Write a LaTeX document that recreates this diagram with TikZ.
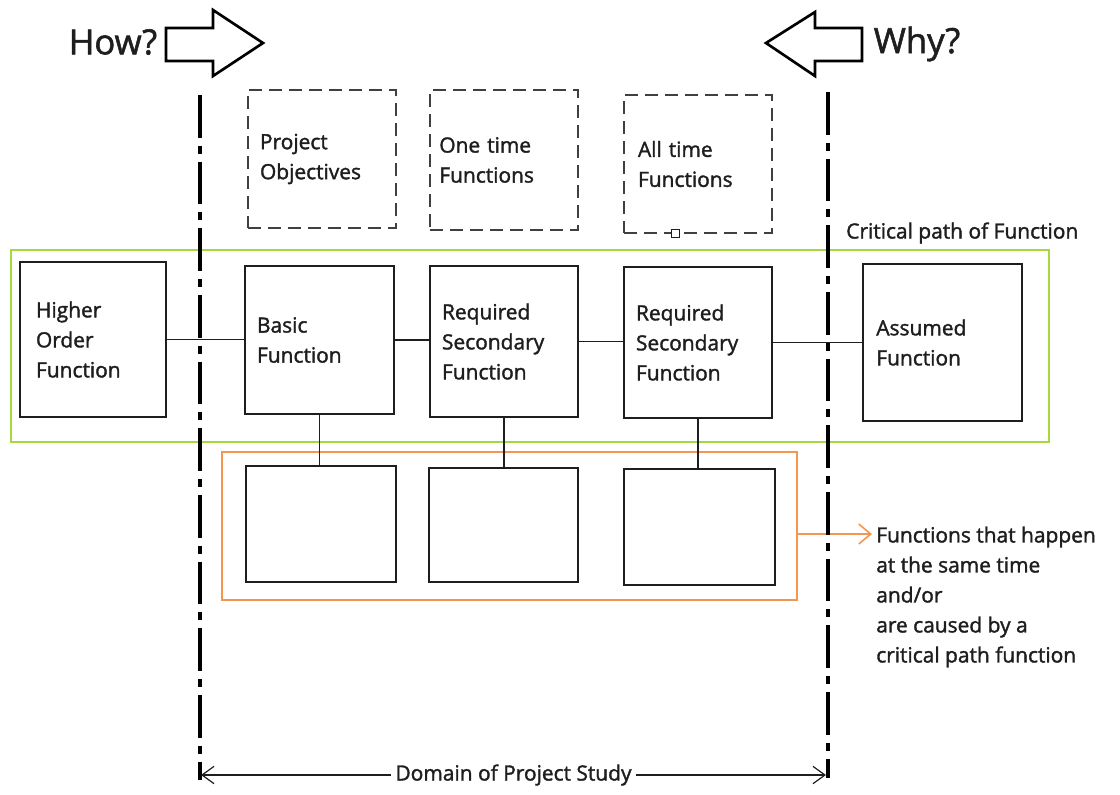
\documentclass[tikz,border=0pt]{standalone}
\usepackage{fontspec}
\setmainfont{Open Sans}
\newfontfamily\sbf{Open Sans}[FakeBold=1.6]
\usetikzlibrary{arrows.meta}
\definecolor{lgreen}{RGB}{166,214,64}
\definecolor{orng}{RGB}{245,150,80}
\definecolor{ink}{RGB}{30,30,30}
\begin{document}
\begin{tikzpicture}[x=0.75pt,y=-0.75pt,
  every node/.style={font=\sbf\fontsize{15.7}{22.5}\selectfont, text=ink},
  fbox/.style 2 args={draw=ink, line width=1.2pt, inner xsep=9pt, inner ysep=0pt,
     minimum width=#1*0.75pt, text width=#1*0.75pt-18pt, minimum height=#2*0.75pt, align=left},
  dbox/.style 2 args={fbox={#1}{#2}, draw=ink!85, dash pattern=on 10pt off 5pt},
  conn/.style={draw=ink, line width=1.1pt},
  dashdotline/.style={line width=3pt, black, dash pattern=on 32pt off 6pt on 6pt off 6pt},
  bigarrow/.style={draw=black, line width=2pt, line join=miter, fill=white},
  txt/.style={inner sep=0pt, align=left}
]
\useasboundingbox (0,0) rectangle (1120,794);
\fill[white] (0,0) rectangle (1120,794);

% How? / Why?
\node[txt, font=\sbf\fontsize{26}{30}\selectfont] (how) at (113,42) {How?};
\node[txt, font=\sbf\fontsize{26}{30}\selectfont] (why) at (917,44) {Why?};
\draw[bigarrow] (166,28) -- (213,28) -- (213,10) -- (263,43) -- (213,76) -- (213,61) -- (166,61) -- cycle;
\draw[bigarrow] (862,28) -- (815,28) -- (815,12) -- (766,43) -- (815,76) -- (815,61) -- (862,61) -- cycle;

% group frames
\node[draw=lgreen, line width=1.5pt, minimum width=1038*0.75pt, minimum height=192*0.75pt, inner sep=0pt] (grect) at (530,346) {};
\node[draw=orng, line width=1.5pt, minimum width=575*0.75pt, minimum height=148*0.75pt, inner sep=0pt] (orect) at (509.5,526) {};

% dashed top boxes
\node[dbox={148}{138}] (po) at (322,159) {Project\\Objectives};
\node[dbox={148}{140}, inner xsep=7pt, text width=148*0.75pt-14pt] (ot) at (504,160) {One time\\Functions};
\node[dbox={148}{138}, inner xsep=10.5pt, text width=148*0.75pt-21pt] (at) at (698,164) {All time\\Functions};
\node[draw=ink, fill=white, line width=0.9pt, minimum size=6.5pt, inner sep=0pt] (hsq) at (675.5,233.5) {};

% critical path row
\node[fbox={146}{155}, inner xsep=12pt, text width=146*0.75pt-24pt] (hof) at (93,339.5) {Higher\\Order\\Function};
\node[fbox={149}{148}] (bf) at (319.5,340) {Basic\\Function};
\node[fbox={148}{151}] (rs1) at (504,341.5) {Required\\Secondary\\Function};
\node[fbox={148}{151}] (rs2) at (698,342.5) {Required\\Secondary\\Function};
\node[fbox={159}{157}, inner xsep=10pt, text width=159*0.75pt-20pt] (af) at (942.5,342.5) {Assumed\\Function};

% lower boxes
\node[fbox={150}{116}] (l1) at (321,524) {};
\node[fbox={149}{114}] (l2) at (503.5,525) {};
\node[fbox={151}{116}] (l3) at (699.5,527) {};

% connectors
\draw[conn] (hof.east) -- (hof.east -| bf.west);
\draw[conn] (bf.east) -- (bf.east -| rs1.west);
\draw[conn] (rs1.east) -- (rs1.east -| rs2.west);
\draw[conn] (rs2.east) -- (rs2.east -| af.west);
\draw[conn] (bf.south) -- (bf.south |- l1.north);
\draw[conn] (rs1.south) -- (rs1.south |- l2.north);
\draw[conn] (rs2.south) -- (rs2.south |- l3.north);

% labels
\node[txt, anchor=west] (cp) at (846,233) {Critical path of Function};
\node[txt, anchor=west] (ftxt) at (876,597) {Functions that happen\\at the same time\\and/or\\are caused by a\\critical path function};
\coordinate (oae) at (872,534);
\draw[orng, line width=1.2pt, -{Straight Barb[length=9pt,width=15pt,line width=1.2pt]}] (orect.east |- oae) -- (oae);

% domain boundaries
\coordinate (dlt) at (200,95);
\coordinate (dlb) at (200,780);
\coordinate (drt) at (828,92);
\coordinate (drb) at (828,778);
\draw[dashdotline] (dlt) -- (dlb);
\draw[dashdotline] (drt) -- (drb);
\coordinate (dl) at (201,775);
\coordinate (dr) at (826,775);
\draw[ink, line width=0.9pt, {Straight Barb[length=9pt,width=13pt]}-{Straight Barb[length=9pt,width=13pt]}] (dl) -- (dr)
  node[midway, fill=white, inner xsep=3pt, inner ysep=1pt] (dom) {Domain of Project Study};
\end{tikzpicture}
\end{document}
